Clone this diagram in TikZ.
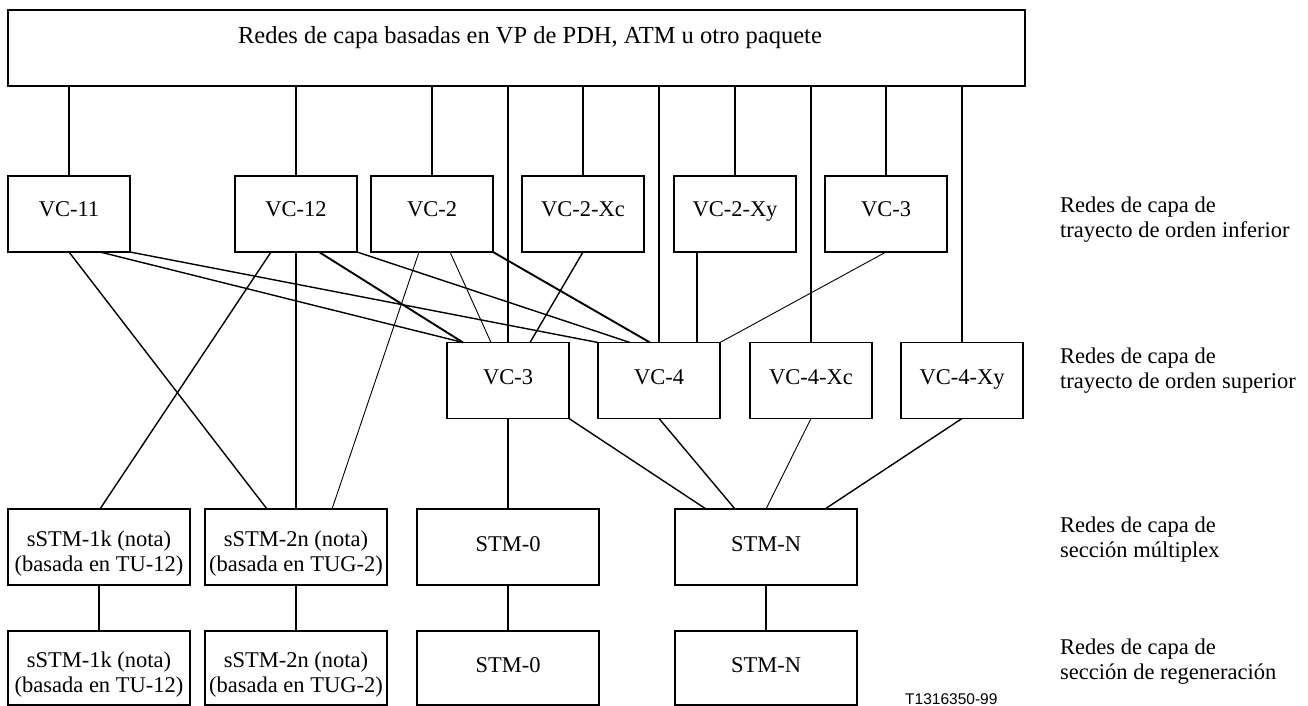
\documentclass[tikz,border=0pt]{standalone}
\usepackage{fontspec}
\setmainfont{Liberation Serif}
\newfontfamily\figfont{Liberation Sans}
\begin{document}
\begin{tikzpicture}[x=1pt,y=-1pt,
  every node/.style={font=\fontsize{22.5}{25}\selectfont},
  layerbox/.style={draw, line width=1.1pt, inner sep=0pt, outer sep=0pt},
  onelabel/.style={layerbox, text height=15pt, text depth=7pt},
  vcbox/.style={onelabel, minimum width=122pt, minimum height=76pt},
  lowvcbox/.style={vcbox, text depth=11pt},
  stmbox/.style={onelabel, minimum width=182pt},
  sstmbox/.style={layerbox, minimum width=182pt, align=center},
  thinlink/.style={line width=0.9pt},
  link/.style={line width=1.4pt},
  heavylink/.style={line width=1.9pt},
  layername/.style={anchor=base west, align=left, inner sep=0pt}
]
\useasboundingbox (0,0) rectangle (1308,706);

% client layer networks
\node[layerbox, minimum width=1017pt, minimum height=76pt, text height=16pt, text depth=24pt,
      font=\fontsize{24.5}{28}\selectfont]
  (top) at (516.5,48)
  {\hspace*{27pt}Redes de capa basadas en VP de PDH, ATM u otro paquete};

% lower order path layer
\node[lowvcbox] (vc11)  at (69,214)  {VC-11};
\node[lowvcbox] (vc12)  at (296,214) {VC-12};
\node[lowvcbox] (vc2)   at (432,214) {VC-2};
\node[lowvcbox] (vc2xc) at (583,214) {VC-2-Xc};
\node[lowvcbox] (vc2xy) at (735,214) {VC-2-Xy};
\node[lowvcbox] (vc3a)  at (886,214) {VC-3};

% higher order path layer
\node[vcbox] (vc3b)  at (508,380.5) {VC-3};
\node[vcbox] (vc4)   at (659,380.5) {VC-4};
\node[vcbox] (vc4xc) at (811,380.5) {VC-4-Xc};
\node[vcbox] (vc4xy) at (962,380.5) {VC-4-Xy};

% multiplex section layer
\node[sstmbox, minimum height=76pt] (sstm1) at (99,547)
  {\rule{0pt}{29pt}sSTM-1k (nota)\\(basada en TU-12)};
\node[sstmbox, minimum height=76pt] (sstm2) at (296,547)
  {\rule{0pt}{29pt}sSTM-2n (nota)\\(basada en TUG-2)};
\node[stmbox, minimum height=76pt] (stm0) at (508,547) {STM-0};
\node[stmbox, minimum height=76pt] (stmn) at (766,547) {STM-N};

% regenerator section layer
\node[sstmbox, minimum height=74pt] (sstm1r) at (99,668)
  {\rule{0pt}{29pt}sSTM-1k (nota)\\(basada en TU-12)};
\node[sstmbox, minimum height=74pt] (sstm2r) at (296,668)
  {\rule{0pt}{29pt}sSTM-2n (nota)\\(basada en TUG-2)};
\node[stmbox, minimum height=74pt] (stm0r) at (508,668) {STM-0};
\node[stmbox, minimum height=74pt] (stmnr) at (766,668) {STM-N};

% layer names (positioned by the baseline of their last line)
\node[layername] (lname1) at (1060,237) {Redes de capa de\\trayecto de orden inferior};
\node[layername] (lname2) at (1060,388) {Redes de capa de\\trayecto de orden superior};
\node[layername] (lname3) at (1060,557) {Redes de capa de\\secci\'on m\'ultiplex};
\node[layername] (lname4) at (1060,679) {Redes de capa de\\secci\'on de regeneraci\'on};

\node[anchor=base west, inner sep=0pt, font=\figfont\fontsize{15.5}{18}\selectfont]
  (figno) at (905,704) {T1316350-99};

% client layer to path layers
\foreach \n in {vc11,vc12,vc2,vc2xc,vc2xy,vc3a,vc3b,vc4,vc4xc,vc4xy}
  \draw[link] (\n.north) -- (\n.north |- top.south);

% lower order path to higher order path
\draw[link] ([xshift=31pt]vc11.south) -- ([xshift=-45pt]vc3b.north);
\draw[link] (vc11.south east) -- (vc4.north west);
\draw[heavylink] ([xshift=23pt]vc12.south) -- ([xshift=-45pt]vc3b.north);
\draw[link] (vc12.south east) -- ([xshift=-29pt]vc4.north);
\draw[thinlink] ([xshift=18pt]vc2.south) -- ([xshift=-17pt]vc3b.north);
\draw[heavylink] (vc2.south east) -- ([xshift=-9pt]vc4.north);
\draw[link] (vc2xc.south) -- ([xshift=22pt]vc3b.north);
\draw[heavylink] ([xshift=-38pt]vc2xy.south) -- ([xshift=-38pt]vc2xy.south |- vc4.north);
\draw[thinlink] (vc3a.south) -- (vc4.north east);

% lower order path to multiplex section
\draw[link] (vc11.south) -- ([xshift=-29pt]sstm2.north);
\draw[link] ([xshift=-25pt]vc12.south) -- ([xshift=1pt]sstm1.north);
\draw[heavylink] (vc12.south) -- (sstm2.north);
\draw[thinlink] ([xshift=-13pt]vc2.south) -- ([xshift=36pt]sstm2.north);

% higher order path to multiplex section
\draw[heavylink] (vc3b.south) -- (stm0.north);
\draw[link] (vc3b.south east) -- ([xshift=-60pt]stmn.north);
\draw[link] (vc4.south) -- ([xshift=-31pt]stmn.north);
\draw[thinlink] (vc4xc.south) -- (stmn.north);
\draw[link] (vc4xy.south) -- ([xshift=59pt]stmn.north);

% multiplex section to regenerator section
\draw[link] (sstm1.south) -- (sstm1r.north);
\draw[link] (sstm2.south) -- (sstm2r.north);
\draw[link] (stm0.south) -- (stm0r.north);
\draw[link] (stmn.south) -- (stmnr.north);
\end{tikzpicture}
\end{document}
